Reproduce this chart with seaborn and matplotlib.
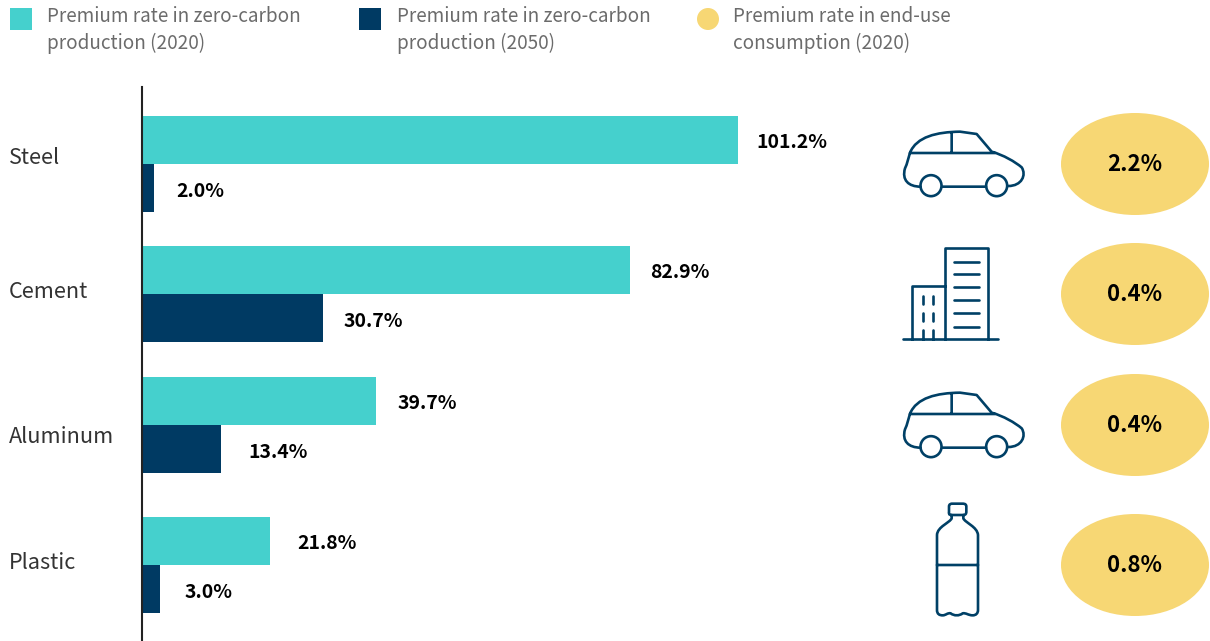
import matplotlib
matplotlib.use("Agg")
import matplotlib.pyplot as plt
from matplotlib.patches import Ellipse, PathPatch, Rectangle, Circle
from matplotlib.path import Path
import pandas as pd
import seaborn as sns

# Chart values
materials = ["Steel", "Cement", "Aluminum", "Plastic"]
rate_2020 = [101.2, 82.9, 39.7, 21.8]
rate_2050 = [2.0, 30.7, 13.4, 3.0]
end_use_2020 = [2.2, 0.4, 0.4, 0.8]
series_names = ["Premium rate in zero-carbon\nproduction (2020)",
                "Premium rate in zero-carbon\nproduction (2050)",
                "Premium rate in end-use\nconsumption (2020)"]

# Layout (canvas pixels)
W, H = 1210, 641
row_y = [164, 294, 425, 565]
label_y = [158, 292, 437, 563]
gap_2020 = [18, 20, 22, 27]
gap_2050 = [23, 21, 27, 25]
TEAL, NAVY, YELLOW = "#45D0CD", "#003A63", "#F7D774"
ICON = "#004066"

sns.set_theme(style="white")
plt.rcParams["font.family"] = ["Noto Sans CJK SC", "DejaVu Sans"]

fig = plt.figure(figsize=(W / 100, H / 100), dpi=100)
ax = fig.add_axes([142 / W, 0, (W - 142) / W, (H - 87) / H])
frame = pd.DataFrame({
    "row": row_y * 2,
    "rate": rate_2020 + rate_2050,
    "series": ["2020"] * 4 + ["2050"] * 4,
})
sns.barplot(frame, x="rate", y="row", hue="series", orient="y", native_scale=True,
            palette=[TEAL, NAVY], width=96 / 130, gap=0, saturation=1, legend=False,
            linewidth=0, ax=ax)
ax.set_xlim(0, (W - 142) / 5.89)
ax.set_ylim(H, 87)
ax.set_xlabel("")
ax.set_ylabel("")
ax.set_xticks([])
ax.set_yticks([])
for side in ["top", "right", "bottom"]:
    ax.spines[side].set_visible(False)
ax.spines["left"].set_color("#222222")
ax.spines["left"].set_linewidth(1.5)

for y, v26, v50, g26, g50 in zip(row_y, rate_2020, rate_2050, gap_2020, gap_2050):
    ax.annotate(f"{v26:.1f}%", (v26, y - 24), xytext=(g26 * 0.72, -2.0), textcoords="offset points",
                va="center", ha="left", fontsize=14, fontweight="bold", color="black")
    ax.annotate(f"{v50:.1f}%", (v50, y + 24), xytext=(g50 * 0.72, -2.4), textcoords="offset points",
                va="center", ha="left", fontsize=14, fontweight="bold", color="black")

# Full-canvas overlay in pixel units for the legend, labels and pictograms
ov = fig.add_axes([0, 0, 1, 1], facecolor="none")
ov.set_xlim(0, W)
ov.set_ylim(H, 0)
ov.axis("off")

for name, y in zip(materials, label_y):
    ov.text(9, y, name, fontsize=15.6, color="#333333", va="center", ha="left")

ov.add_patch(Rectangle((10, 8), 22, 22, color=TEAL, lw=0))
ov.add_patch(Rectangle((359, 8), 22, 22, color=NAVY, lw=0))
ov.add_patch(Circle((708, 19), 11, color=YELLOW, lw=0))
for x, name in zip([47, 397, 733], series_names):
    ov.text(x, 30, name, fontsize=13.6, color="#6b6b6b", va="center", ha="left", linespacing=1.38)

for y, v in zip(row_y, end_use_2020):
    ov.add_patch(Ellipse((1135, y), 148, 102, color=YELLOW, lw=0))
    ov.text(1135, y + 0.5, f"{v:.1f}%", fontsize=16, fontweight="bold", color="black",
            ha="center", va="center")

stroke = dict(fill=False, edgecolor=ICON, lw=1.9, capstyle="round", joinstyle="round")


def draw_path(codes_points, ox=0.0, oy=0.0):
    verts, codes = [], []
    for code, pts in codes_points:
        for p in pts:
            verts.append((p[0] + ox, p[1] + oy))
            codes.append(code)
    ov.add_patch(PathPatch(Path(verts, codes), **stroke))


M, L, C = Path.MOVETO, Path.LINETO, Path.CURVE4


def draw_car(oy):
    # Outline sketched on a 3x grid with its origin at (880, 110)
    def s(x, y):
        return (880 + x / 3, 110 + y / 3)
    body = [
        (M, [s(122, 230)]),
        (C, [s(85, 230), s(65, 210), s(75, 175)]),
        (C, [s(82, 160), s(85, 145), s(90, 128)]),
        (C, [s(110, 80), s(170, 66), s(240, 65)]),
        (L, [s(290, 72)]),
        (L, [s(335, 125)]),
        (C, [s(370, 135), s(405, 155), s(425, 172)]),
        (C, [s(440, 195), s(425, 228), s(385, 228)]),
        (M, [s(187, 230)]),
        (L, [s(318, 230)]),
        (M, [s(90, 129)]),
        (L, [s(345, 129)]),
        (M, [s(215, 68)]),
        (L, [s(215, 128)]),
    ]
    draw_path(body, oy=oy)
    for cx in (153, 350):
        x, y = s(cx, 227)
        ov.add_patch(Circle((x, y + oy), 10.5, **stroke))


def draw_building():
    def s(x, y):
        return (880 + x / 3, 110 + y / 3)
    parts = [
        (M, [s(70, 688)]), (L, [s(355, 688)]),
        (M, [s(195, 688)]), (L, [s(195, 415), s(325, 415), s(325, 688)]),
        (M, [s(195, 527)]), (L, [s(95, 527), s(95, 688)]),
    ]
    for yy in (455, 493, 532, 571, 610, 650):
        parts += [(M, [s(222, yy)]), (L, [s(298, yy)])]
    for xx in (130, 160):
        for y0, y1 in ((558, 582), (610, 634), (660, 688)):
            parts += [(M, [s(xx, y0)]), (L, [s(xx, y1)])]
    draw_path(parts)


def draw_bottle():
    def s(x, y):
        return (890 + x / 3, 380 + y / 3)
    parts = [
        (M, [s(185, 405)]),
        (C, [s(175, 405), s(177, 400), s(177, 395)]),
        (L, [s(177, 380)]),
        (C, [s(177, 372), s(182, 371), s(188, 371)]),
        (L, [s(218, 371)]),
        (C, [s(226, 371), s(229, 374), s(229, 380)]),
        (L, [s(229, 395)]),
        (C, [s(229, 402), s(226, 405), s(220, 405)]),
        (L, [s(185, 405)]),
        (L, [s(185, 415)]),
        (C, [s(180, 428), s(142, 440), s(141, 465)]),
        (L, [s(141, 690)]),
        (C, [s(141, 702), s(148, 706), s(158, 706)]),
        (C, [s(168, 706), s(172, 698), s(182, 700)]),
        (C, [s(192, 708), s(208, 708), s(218, 700)]),
        (C, [s(228, 698), s(235, 706), s(248, 706)]),
        (C, [s(258, 706), s(264, 700), s(264, 690)]),
        (L, [s(264, 465)]),
        (C, [s(262, 440), s(225, 428), s(220, 415)]),
        (L, [s(220, 405)]),
        (M, [s(141, 555)]),
        (L, [s(264, 555)]),
    ]
    draw_path(parts)


draw_car(0)
draw_building()
draw_car(261)
draw_bottle()

fig.savefig("out.png", dpi=100)
